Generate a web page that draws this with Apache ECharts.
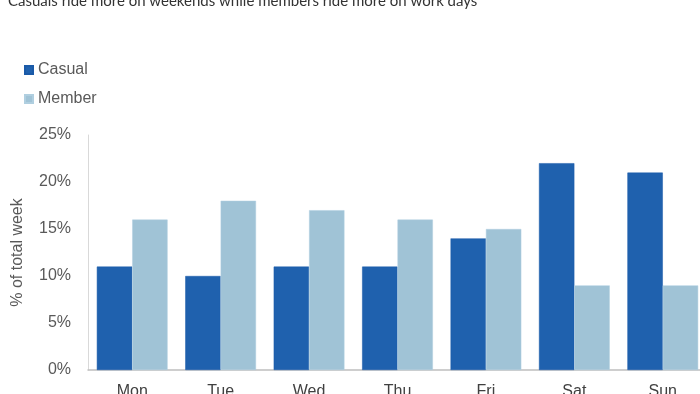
<!DOCTYPE html>
<html><head><meta charset="utf-8">
<script src="https://cdn.jsdelivr.net/npm/echarts@6/dist/echarts.min.js"></script>
<style>html,body{margin:0;padding:0;background:#fff}#c{width:700px;height:394px}</style>
</head><body><div id="c"></div>
<script>
const categories = ['Mon','Tue','Wed','Thu','Fri','Sat','Sun'];
const casual = [11,10,11,11,14,22,21];
const member = [16,18,17,16,15,9,9];
const yTicks = [0,5,10,15,20,25];
const titleText = 'Casuals ride more on weekends while members ride more on work days';

const chart = echarts.init(document.getElementById('c'), null, {renderer:'canvas'});
chart.setOption({
  animation:false,
  title:{text:titleText,left:3,top:-11,textStyle:{fontFamily:'Lato',fontSize:15,fontWeight:'normal',color:'#333'}},
  legend:{orient:'vertical',left:19,top:57,itemWidth:8,itemHeight:8,itemGap:13,icon:'rect',
    textStyle:{fontFamily:'Liberation Sans',fontSize:16,color:'#595959'},data:['Casual','Member']},
  grid:{left:88,width:619,top:135,height:235,containLabel:false,outerBoundsMode:'none'},
  xAxis:{type:'category',data:categories,axisLine:{lineStyle:{color:'#bfbfbf',width:1.5}},axisTick:{show:false},
    axisLabel:{fontFamily:'Liberation Sans',fontSize:16,color:'#404040',margin:14}},
  yAxis:{type:'value',min:yTicks[0],max:yTicks[yTicks.length-1],interval:5,
    name:'% of total week',nameLocation:'middle',nameGap:62,nameRotate:90,
    nameTextStyle:{fontFamily:'Liberation Sans',fontSize:16,color:'#595959'},
    axisLine:{show:true,lineStyle:{color:'#d9d9d9'}},axisTick:{show:false},splitLine:{show:false},
    axisLabel:{fontFamily:'Liberation Sans',fontSize:16,color:'#595959',margin:17,formatter:v=>v+'%'}},
  series:[
    {name:'Casual',type:'bar',data:casual,barGap:'0%',barCategoryGap:'20%',itemStyle:{color:'#1f61ae',borderColor:'#1a5aa8',borderWidth:0.5}},
    {name:'Member',type:'bar',data:member,itemStyle:{color:'#a0c3d6',borderColor:'#b0cfe0',borderWidth:0.5}}
  ]
});
</script></body></html>
